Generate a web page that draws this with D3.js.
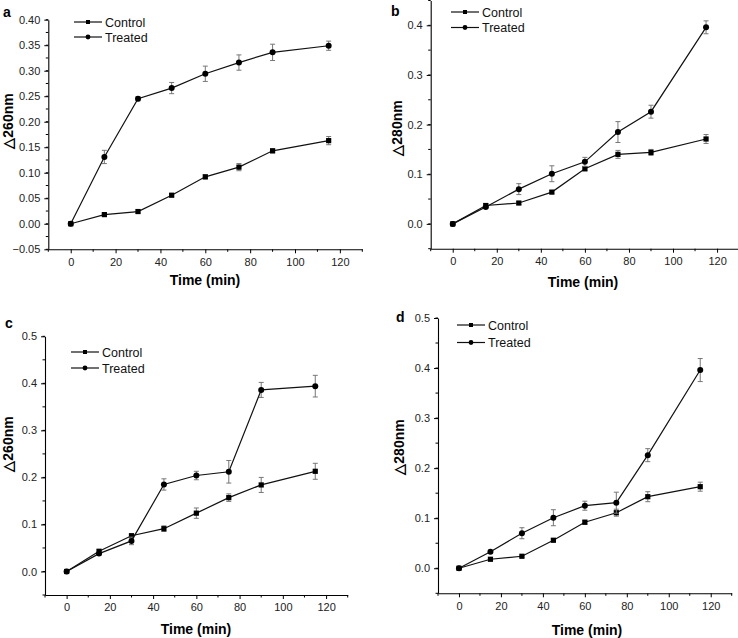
<!DOCTYPE html>
<html><head><meta charset="utf-8">
<script src="https://cdn.jsdelivr.net/npm/d3@7"></script>
<style>body{margin:0;background:#fff}svg{display:block}text{font-family:"Liberation Sans",Arial,sans-serif}</style>
</head><body>
<script>
const time = [0, 15, 30, 45, 60, 75, 90, 115];
const seriesNames = ["Control", "Treated"];
const xTicks = [0, 20, 40, 60, 80, 100, 120];

const aControl = [0, 0.018, 0.024, 0.056, 0.092, 0.111, 0.143, 0.163];
const aControlErr = [0.002, 0.003, 0.003, 0.003, 0.004, 0.007, 0.004, 0.008];
const aTreated = [0, 0.131, 0.245, 0.266, 0.294, 0.316, 0.336, 0.349];
const aTreatedErr = [0.002, 0.013, 0.004, 0.011, 0.015, 0.015, 0.016, 0.009];

const bControl = [0, 0.037, 0.042, 0.064, 0.111, 0.140, 0.144, 0.171];
const bControlErr = [0.002, 0.004, 0.003, 0.003, 0.004, 0.008, 0.006, 0.009];
const bTreated = [0, 0.034, 0.070, 0.101, 0.125, 0.185, 0.226, 0.396];
const bTreatedErr = [0.002, 0.003, 0.011, 0.016, 0.009, 0.021, 0.013, 0.013];

const cControl = [0, 0.043, 0.076, 0.091, 0.124, 0.157, 0.184, 0.213];
const cControlErr = [0.002, 0.003, 0.004, 0.006, 0.011, 0.008, 0.016, 0.017];
const cTreated = [0, 0.038, 0.065, 0.185, 0.204, 0.212, 0.386, 0.394];
const cTreatedErr = [0.002, 0.003, 0.008, 0.012, 0.009, 0.024, 0.016, 0.023];

const dControl = [0, 0.018, 0.024, 0.056, 0.092, 0.111, 0.143, 0.163];
const dControlErr = [0.002, 0.002, 0.002, 0.003, 0.004, 0.007, 0.010, 0.009];
const dTreated = [0, 0.033, 0.070, 0.101, 0.125, 0.131, 0.226, 0.396];
const dTreatedErr = [0.002, 0.002, 0.011, 0.016, 0.009, 0.021, 0.013, 0.023];

const aYTicks = [-0.05, 0, 0.05, 0.10, 0.15, 0.20, 0.25, 0.30, 0.35, 0.40];
const bYTicks = [0, 0.1, 0.2, 0.3, 0.4];
const cYTicks = [0, 0.1, 0.2, 0.3, 0.4, 0.5];
const dYTicks = [0, 0.1, 0.2, 0.3, 0.4, 0.5];

const panels = [
  {id:"a", ylabel:"\u25B3260nm", ctrl:aControl, ctrlErr:aControlErr, trt:aTreated, trtErr:aTreatedErr,
   yTicks:aYTicks, yDom:[-0.05,0.40], yMinorStep:0.025, fmt:".2f",
   xr:[48.3,362.3], yr:[249.3,19.7], letter:[3,17], leg:[74,22,15], ylab:[8,121], xlab:[205,285]},
  {id:"b", ylabel:"\u25B3280nm", ctrl:bControl, ctrlErr:bControlErr, trt:bTreated, trtErr:bTreatedErr,
   yTicks:bYTicks, yDom:[-0.05,0.45], yMinorStep:0.05, fmt:".1f",
   xr:[430.7,739.1], yr:[248.7,0.5], letter:[391,16], leg:[451,12,15.5], ylab:[397,128], xlab:[583,287]},
  {id:"c", ylabel:"\u25B3260nm", ctrl:cControl, ctrlErr:cControlErr, trt:cTreated, trtErr:cTreatedErr,
   yTicks:cYTicks, yDom:[-0.05,0.5], yMinorStep:0.05, fmt:".1f",
   xr:[45,347.7], yr:[595,336.3], letter:[5,328], leg:[71,352,16], ylab:[8,444], xlab:[196,634]},
  {id:"d", ylabel:"\u25B3280nm", ctrl:dControl, ctrlErr:dControlErr, trt:dTreated, trtErr:dTreatedErr,
   yTicks:dYTicks, yDom:[-0.05,0.5], yMinorStep:0.05, fmt:".1f",
   xr:[438,731.7], yr:[593.3,318], letter:[396,322], leg:[457,325,17.5], ylab:[399,447], xlab:[587,635]}
];

const svg = d3.select("body").append("svg").attr("width",738).attr("height",638);

panels.forEach(p => {
  const g = svg.append("g");
  const x = d3.scaleLinear().domain([-10,130]).range(p.xr);
  const y = d3.scaleLinear().domain(p.yDom).range(p.yr);
  const y0 = p.yr[0], x0 = p.xr[0];

  // x axis
  const xAx = d3.axisBottom(x).tickValues(xTicks).tickSize(4).tickSizeOuter(0).tickFormat(d3.format("d"));
  const xg = g.append("g").attr("transform",`translate(0,${y0})`).call(xAx);
  const xMinor = d3.range(-10, 131, 20);
  xg.selectAll(".minor").data(xMinor).enter().append("line").attr("class","minor")
    .attr("x1",d=>x(d)).attr("x2",d=>x(d)).attr("y1",0).attr("y2",2.5).attr("stroke","#000");
  // y axis
  const yAx = d3.axisLeft(y).tickValues(p.yTicks).tickSize(4).tickSizeOuter(0).tickFormat(d3.format(p.fmt));
  const yg = g.append("g").attr("transform",`translate(${x0},0)`).call(yAx);
  const nMin = Math.round((p.yDom[1]-p.yDom[0])/p.yMinorStep);
  const yMinor = d3.range(0, nMin+1).map(i => p.yDom[0] + i*p.yMinorStep);
  yg.selectAll(".minor").data(yMinor).enter().append("line").attr("class","minor")
    .attr("y1",d=>y(d)).attr("y2",d=>y(d)).attr("x1",0).attr("x2",-2.5).attr("stroke","#000");
  [xg,yg].forEach(a=>{
    a.select(".domain").attr("stroke","#000").attr("stroke-width",1.1);
    a.selectAll(".tick line").attr("stroke","#000");
    a.selectAll(".tick text").attr("font-size",11).attr("fill","#222").style("font-family","Liberation Sans, Arial, sans-serif");
  });
  xg.selectAll(".tick text").attr("dy","0.95em").attr("y",6);
  yg.selectAll(".tick text").attr("x",-8);

  // series
  const series = [
    {name:seriesNames[0], vals:p.ctrl, err:p.ctrlErr, shape:"square"},
    {name:seriesNames[1], vals:p.trt, err:p.trtErr, shape:"circle"}
  ];
  const line = d3.line().x((d,i)=>x(time[i])).y(d=>y(d));
  series.forEach(s => {
    const eg = g.append("g").attr("stroke","#777").attr("stroke-width",1);
    time.forEach((t,i)=>{
      const cx = x(t), hi = y(s.vals[i]+s.err[i]), lo = y(s.vals[i]-s.err[i]);
      eg.append("line").attr("x1",cx).attr("x2",cx).attr("y1",hi).attr("y2",lo);
      eg.append("line").attr("x1",cx-2.5).attr("x2",cx+2.5).attr("y1",hi).attr("y2",hi);
      eg.append("line").attr("x1",cx-2.5).attr("x2",cx+2.5).attr("y1",lo).attr("y2",lo);
    });
    g.append("path").datum(s.vals).attr("d",line).attr("fill","none").attr("stroke","#111").attr("stroke-width",1.2);
    g.selectAll(null).data(s.vals).enter().append(s.shape==="square"?"rect":"circle")
      .each(function(d,i){
        const el = d3.select(this);
        if (s.shape==="square") el.attr("x",x(time[i])-2.6).attr("y",y(d)-2.6).attr("width",5.2).attr("height",5.2);
        else el.attr("cx",x(time[i])).attr("cy",y(d)).attr("r",3);
      }).attr("fill","#000");
  });

  // legend
  series.forEach((s,k)=>{
    const ly = p.leg[1] + k*p.leg[2];
    g.append("line").attr("x1",p.leg[0]).attr("x2",p.leg[0]+28).attr("y1",ly).attr("y2",ly).attr("stroke","#111").attr("stroke-width",1.2);
    if (s.shape==="square") g.append("rect").attr("x",p.leg[0]+14-2).attr("y",ly-2).attr("width",4).attr("height",4).attr("fill","#000");
    else g.append("circle").attr("cx",p.leg[0]+14).attr("cy",ly).attr("r",2.4).attr("fill","#000");
    g.append("text").attr("x",p.leg[0]+31).attr("y",ly).attr("dy","0.36em").attr("font-size",12.5).attr("fill","#111").text(s.name);
  });

  // titles
  g.append("text").attr("x",p.xlab[0]).attr("y",p.xlab[1]).attr("text-anchor","middle")
    .attr("font-size",14).attr("font-weight","bold").text("Time (min)");
  g.append("text").attr("transform",`translate(${p.ylab[0]},${p.ylab[1]}) rotate(-90)`).attr("text-anchor","middle")
    .attr("dy","0.35em").attr("font-size",14).attr("font-weight","bold").text(p.ylabel);
  g.append("text").attr("x",p.letter[0]).attr("y",p.letter[1]).attr("font-size",14).attr("font-weight","bold").text(p.id);
});
</script>
</body></html>
